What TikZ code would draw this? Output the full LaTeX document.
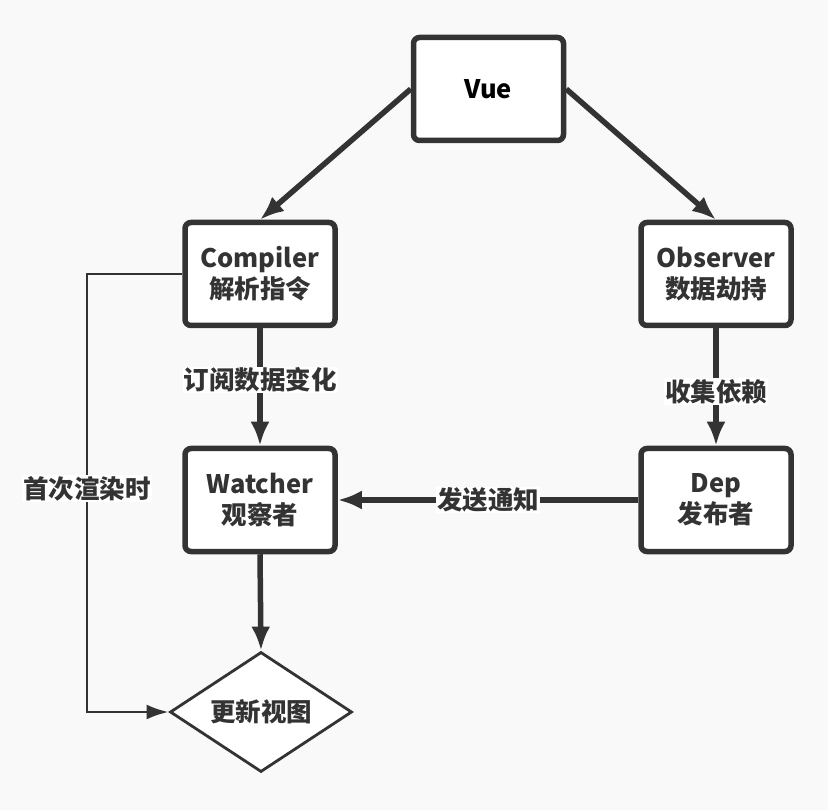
\documentclass[tikz,border=0pt]{standalone}
\usepackage{fontspec}
\setmainfont{Noto Sans CJK SC}
\usetikzlibrary{arrows.meta,shapes.geometric}
\definecolor{pagebg}{HTML}{F9F9F9}
\definecolor{ink}{HTML}{333333}
\tikzset{
	box/.style={draw=ink, line width=5.5pt, rounded corners=6pt, fill=white, text=ink, align=center, minimum width=150pt, minimum height=103pt, font=\fontsize{25.5}{31}\selectfont\bfseries},
	decide/.style={diamond, draw=ink, line width=2.8pt, fill=white, text=ink, aspect=1.5, inner sep=0pt, minimum width=182pt, minimum height=120pt, font=\fontsize{25.5}{31}\selectfont\bfseries},
	thick link/.style={draw=ink, line width=5.5pt, -{Latex[length=24pt, width=19pt]}},
	thin link/.style={draw=ink, line width=2.8pt, -{Latex[length=22pt, width=15pt]}},
	tag/.style={fill=white, text=ink, inner sep=1pt, font=\fontsize{25.5}{28}\selectfont\bfseries}
}
\begin{document}
	\begin{tikzpicture}[x=1pt, y=-1pt]
		\fill[pagebg] (0,0) rectangle (828,810);
		
		\node[box, text=black] (Vue) at (488.5,89) {Vue};
		\foreach \n/\x/\y/\a/\b in {Compiler/260/274/Compiler/解析指令, Observer/716/274/Observer/数据劫持, Watcher/260/500/Watcher/观察者, Dep/716/500/Dep/发布者}
		{
			\node[box] (\n) at (\x,\y) {\a\\\b};
		}
		\node[decide] (Update) at (261,712) {更新视图};
		\coordinate (render) at (87,274);
		
		\draw[thick link] (Vue.west) -- (Compiler.north);
		\draw[thick link] (Vue.east) -- (Observer.north);
		\draw[thick link] (Compiler.south) -- node[tag, pos=0.44] {订阅数据变化} (Watcher.north);
		\draw[thick link] (Observer.south) -- node[tag, pos=0.54] {收集依赖} (Dep.north);
		\draw[thick link] (Dep.west) -- node[tag] {发送通知} (Watcher.east);
		\draw[thick link] (Watcher.south) -- (Update.north);
		\draw[thin link] (Compiler.west) -- (render) |- node[tag, pos=0.245] {首次渲染时} (Update.west);
		
	\end{tikzpicture}
\end{document}
